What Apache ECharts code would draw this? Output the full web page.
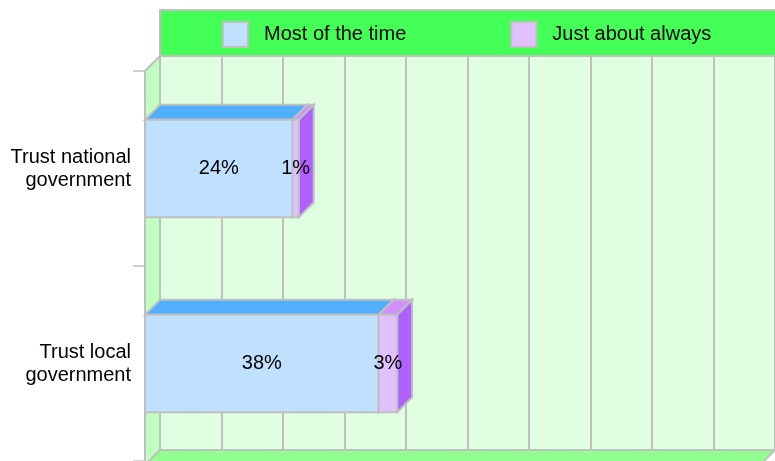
<!DOCTYPE html>
<html>
<head>
<meta charset="utf-8">
<script src="https://cdn.jsdelivr.net/npm/echarts@6/dist/echarts.min.js"></script>
<style>html,body{margin:0;padding:0;background:#fff;}#c{width:775px;height:461px;}</style>
</head>
<body>
<div id="c"></div>
<script>
var categories = ['Trust national\ngovernment', 'Trust local\ngovernment'];
var seriesNames = ['Most of the time', 'Just about always'];
var mostOfTheTime = [24, 38];
var justAboutAlways = [1, 3];
var labelsMost = ['24%', '38%'];
var labelsAlways = ['1%', '3%'];

var FONT = '"Liberation Sans", Arial, Helvetica, sans-serif';
var GRAY = '#c0c0c0';
var D = 15; // depth offset
var FRONT = {left: 145, top: 71, width: 615, height: 394};
var BACK = {left: 160, top: 56, width: 615, height: 394};

var faceColors = [
  {front: '#c0e0ff', top: '#50b0ff', side: '#3a8ef0'},
  {front: '#e0c0ff', top: '#d090ff', side: '#b060ff'}
];

function makeData(values, bases) {
  return values.map(function (v, i) { return [bases[i], bases[i] + v, i]; });
}
var zeros = categories.map(function () { return 0; });
var data1 = makeData(mostOfTheTime, zeros);
var data2 = makeData(justAboutAlways, mostOfTheTime);

function renderer(colors, labels) {
  return function (params, api) {
    var start = api.value(0), end = api.value(1), cat = api.value(2);
    var p0 = api.coord([start, cat]);
    var p1 = api.coord([end, cat]);
    var h = api.size([0, 1])[1] * 0.5;
    var x0 = p0[0], x1 = p1[0], yt = p0[1] - h / 2, yb = p0[1] + h / 2;
    var lbl = labels[params.dataIndex];
    return {
      type: 'group',
      children: [
        {type: 'polygon', shape: {points: [[x0, yt], [x1, yt], [x1 + D, yt - D], [x0 + D, yt - D]]},
          style: {fill: colors.top, stroke: GRAY, lineWidth: 2}},
        {type: 'polygon', shape: {points: [[x1, yt], [x1 + D, yt - D], [x1 + D, yb - D], [x1, yb]]},
          style: {fill: colors.side, stroke: GRAY, lineWidth: 2}},
        {type: 'rect', shape: {x: x0, y: yt, width: x1 - x0, height: yb - yt},
          style: {fill: colors.front, stroke: GRAY, lineWidth: 2}},
        {type: 'text', x: (x0 + x1) / 2, y: (yt + yb) / 2, z2: 10,
          style: {text: lbl, fill: '#000', font: '20px ' + FONT, align: 'center', verticalAlign: 'middle'}}
      ]
    };
  };
}

var chart = echarts.init(document.getElementById('c'), null, {renderer: 'canvas'});
chart.setOption({
  backgroundColor: '#fff',
  animation: false,
  textStyle: {fontFamily: FONT},
  grid: [
    {left: BACK.left, top: BACK.top, width: BACK.width, height: BACK.height, show: true,
      backgroundColor: '#e0ffe0', borderColor: GRAY, borderWidth: 2, containLabel: false},
    {left: FRONT.left, top: FRONT.top, width: FRONT.width, height: FRONT.height, containLabel: false}
  ],
  xAxis: [
    {gridIndex: 0, type: 'value', min: 0, max: 100, interval: 10,
      axisLine: {show: false}, axisTick: {show: false}, axisLabel: {show: false},
      splitLine: {show: true, lineStyle: {color: GRAY, width: 2}}},
    {gridIndex: 1, type: 'value', min: 0, max: 100, interval: 10, show: false,
      splitLine: {show: false}}
  ],
  yAxis: [
    {gridIndex: 0, type: 'category', data: categories, show: false},
    {gridIndex: 1, type: 'category', data: categories, inverse: true,
      axisLine: {show: true, lineStyle: {color: GRAY, width: 2}},
      axisTick: {show: true, length: 12, interval: 0, lineStyle: {color: GRAY, width: 1.5}},
      axisLabel: {color: '#000', fontSize: 20, fontFamily: FONT, margin: 14, lineHeight: 23, align: 'right'},
      splitLine: {show: false}}
  ],
  legend: {
    data: seriesNames,
    left: 222, top: 21, padding: 0,
    itemWidth: 25, itemHeight: 25, itemGap: 104,
    icon: 'rect',
    itemStyle: {borderColor: GRAY, borderWidth: 2},
    textStyle: {color: '#000', fontSize: 20, fontFamily: FONT, padding: [0, 0, 0, 11]},
    z: 10
  },
  graphic: [
    {type: 'rect', z: 5, shape: {x: 160, y: 10, width: 620, height: 46},
      style: {fill: '#44ff55', stroke: GRAY, lineWidth: 2}},
    {type: 'polygon', z: 5, shape: {points: [[145, 71], [160, 56], [160, 450], [145, 465]]},
      style: {fill: '#c0ffc0', stroke: GRAY, lineWidth: 2}},
    {type: 'polygon', z: 5, shape: {points: [[160, 450], [775, 450], [760, 465], [145, 465]]},
      style: {fill: '#90ff90', stroke: GRAY, lineWidth: 2}}
  ],
  series: [
    {name: seriesNames[0], type: 'custom', xAxisIndex: 1, yAxisIndex: 1, z: 10,
      itemStyle: {color: faceColors[0].front},
      encode: {x: [0, 1], y: 2}, renderItem: renderer(faceColors[0], labelsMost), data: data1},
    {name: seriesNames[1], type: 'custom', xAxisIndex: 1, yAxisIndex: 1, z: 11,
      itemStyle: {color: faceColors[1].front},
      encode: {x: [0, 1], y: 2}, renderItem: renderer(faceColors[1], labelsAlways), data: data2}
  ]
});
</script>
</body>
</html>
